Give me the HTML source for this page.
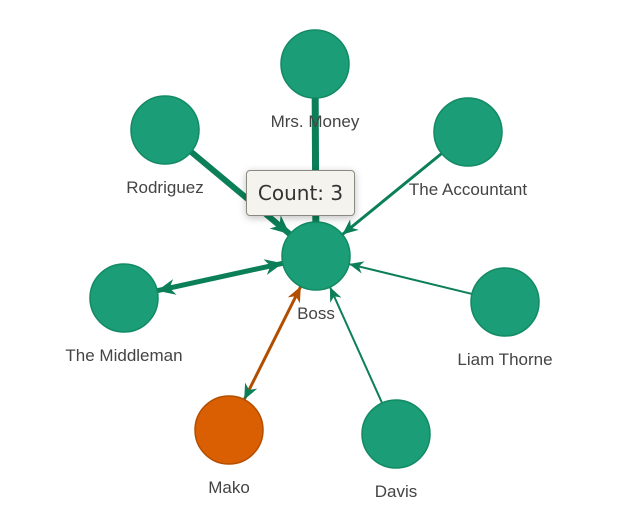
<!DOCTYPE html>
<html><head><meta charset="utf-8"><style>
body{margin:0;background:#fff;width:628px;height:520px;overflow:hidden;font-family:"Liberation Sans",sans-serif}
#tip{position:absolute;left:246px;top:170px;width:107px;height:44px;background:#f4f3ee;border:1px solid #8a8a80;border-radius:4px;box-shadow:0 2px 8px rgba(0,0,0,.25);font:20px "DejaVu Sans","Liberation Sans",sans-serif;color:#333;display:flex;align-items:center;justify-content:center}
</style></head><body>
<svg id="g" width="628" height="520" style="position:absolute;left:0;top:0"></svg>
<div id="tip">Count:&nbsp;3</div>
<script>
const nodeNames=["Boss","Mrs. Money","Rodriguez","The Accountant","The Middleman","Liam Thorne","Mako","Davis"];
const nodeX=[316,315,165,468,124,505,229,396];
const nodeY=[256,64,130,132,298,302,430,434];
const nodeColorGroup=[0,0,0,0,0,0,1,0];
const edgeFrom=[1,2,3,4,5,7,6];
const edgeTo=[0,0,0,0,0,0,0];
const edgeWidth=[7,6,3,5,2,2,3];
const edgeBidir=[0,0,0,1,0,0,1];
const edgeColorGroup=[0,0,0,0,0,0,1];
const fills=["#1b9e77","#d95f02"],strokes=["#128a63","#b54f00"],ecol=["#0b7f57","#b24e00"];
const R=34,NS="http://www.w3.org/2000/svg",svg=document.getElementById('g');
function mk(t,a){const e=document.createElementNS(NS,t);for(const k in a)e.setAttribute(k,a[k]);return e;}
function arrow(x,y,ux,uy,w,c){const L=12+w*1.2,W=5+w*0.6,bx=x-ux*L,by=y-uy*L;
 return mk('polygon',{points:`${x},${y} ${bx-uy*W},${by+ux*W} ${x-ux*L*0.7},${y-uy*L*0.7} ${bx+uy*W},${by-ux*W}`,fill:c});}
for(let i=0;i<edgeFrom.length;i++){
 const a=edgeFrom[i],b=edgeTo[i];const dx=nodeX[b]-nodeX[a],dy=nodeY[b]-nodeY[a],d=Math.hypot(dx,dy),ux=dx/d,uy=dy/d;
 const x1=nodeX[a]+ux*R,y1=nodeY[a]+uy*R,x2=nodeX[b]-ux*R,y2=nodeY[b]-uy*R;
 const grp=mk('g',{});
 
 
 const c=ecol[edgeColorGroup[i]];
 grp.appendChild(mk('line',{x1,y1,x2,y2,stroke:c,'stroke-width':edgeWidth[i]}));
 grp.appendChild(arrow(x2,y2,ux,uy,edgeWidth[i],c));
 if(edgeBidir[i])grp.appendChild(arrow(x1,y1,-ux,-uy,edgeWidth[i],ecol[0]));
 svg.appendChild(grp);
}
for(let i=0;i<nodeNames.length;i++){
 const c=mk('circle',{cx:nodeX[i],cy:nodeY[i],r:R,fill:fills[nodeColorGroup[i]],stroke:strokes[nodeColorGroup[i]],'stroke-width':1.5});
 
 
 svg.appendChild(c);
}
for(let i=0;i<nodeNames.length;i++){
 const t=mk('text',{x:nodeX[i],y:nodeY[i]+R+29,'text-anchor':'middle','font-size':17,fill:'#444','font-family':'Liberation Sans, sans-serif'});
 t.textContent=nodeNames[i];
 
 
 svg.appendChild(t);
}
</script>
</body></html>
